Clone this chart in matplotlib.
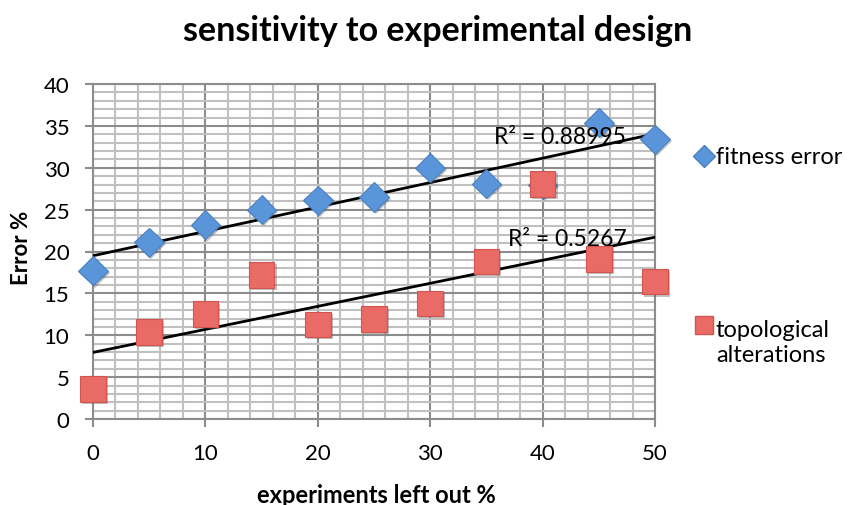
import numpy as np
import matplotlib
matplotlib.use("Agg")
import matplotlib.pyplot as plt
from matplotlib.ticker import MultipleLocator
import matplotlib.patheffects as pe

x_vals = [0, 5, 10, 15, 20, 25, 30, 35, 40, 45, 50]
fitness_error = [17.7, 21.1, 23.2, 25.0, 26.1, 26.5, 30.0, 28.1, 28.0, 35.4, 33.4]
topological = [3.6, 10.4, 12.5, 17.2, 11.3, 11.9, 13.8, 18.8, 28.1, 19.1, 16.4]
series_names = ["fitness error", "topological\nalterations"]
r2_labels = ["R² = 0.88995", "R² = 0.5267"]
title = "sensitivity to experimental design"
xlabel = "experiments left out %"
ylabel = "Error %"

plt.rcParams['font.family'] = ['Lato', 'DejaVu Sans']

fig = plt.figure(figsize=(8.49, 5.06), dpi=100)
W, H = 849, 506
ax = fig.add_axes([93 / W, 1 - 420 / H, (655 - 93) / W, (420 - 85) / H])

ax.set_xlim(0, 50)
ax.set_ylim(0, 40)
ax.xaxis.set_major_locator(MultipleLocator(10))
ax.xaxis.set_minor_locator(MultipleLocator(2))
ax.yaxis.set_major_locator(MultipleLocator(5))
ax.yaxis.set_minor_locator(MultipleLocator(1))
ax.grid(which='minor', color='#c0c0c0', linewidth=1.5)
ax.grid(which='major', color='#8c8c8c', linewidth=1.5)
ax.set_axisbelow(True)
for s in ax.spines.values():
    s.set_color('#8c8c8c')
    s.set_linewidth(1.5)
ax.tick_params(which='minor', length=0)
ax.tick_params(which='major', length=6, color='#8c8c8c', width=1.5,
               labelsize=16)
ax.tick_params(axis='y', pad=11)
ax.tick_params(axis='x', pad=11)

shadow = [pe.SimplePatchShadow(offset=(1.5, -1.5), alpha=0.35, shadow_rgbFace='#555555'), pe.Normal()]

xa = np.array(x_vals, dtype=float)
for yv in (fitness_error, topological):
    k, b = np.polyfit(xa, np.array(yv), 1)
    ax.plot([0, 50], [b, b + 50 * k], color='black', linewidth=2, zorder=3)

ax.plot(x_vals, fitness_error, linestyle='none', marker='D', markersize=15,
        markerfacecolor='#5b95d9', markeredgecolor='#4a7fc0', markeredgewidth=0.8,
        zorder=4, path_effects=shadow, clip_on=False)
ax.plot(x_vals, topological, linestyle='none', marker='s', markersize=18.5,
        markerfacecolor='#ea6b66', markeredgecolor='#d05550', markeredgewidth=0.8,
        zorder=5, path_effects=shadow, clip_on=False)

ax.text(41.5, 33.7, r2_labels[0], fontsize=16.5, ha='center', va='center', zorder=6)
ax.text(42.2, 21.5, r2_labels[1], fontsize=16.5, ha='center', va='center', zorder=6)

fig.text(438 / W, 1 - 31 / H, title, fontsize=24.5, fontweight='bold',
         ha='center', va='center')
fig.text(376 / W, 1 - 496 / H, xlabel, fontsize=17, fontweight='bold',
         ha='center', va='center')
fig.text(22 / W, 1 - 248 / H, ylabel, fontsize=16, fontweight='bold',
         ha='center', va='center', rotation=90)

# legend
fig.lines.append(matplotlib.lines.Line2D([704 / W], [1 - 157 / H], transform=fig.transFigure,
                 marker='D', markersize=11, markerfacecolor='#5b95d9',
                 markeredgecolor='#4a7fc0', linestyle='none'))
fig.text(716 / W, 1 - 158 / H, series_names[0], fontsize=17, ha='left', va='center')
fig.lines.append(matplotlib.lines.Line2D([704 / W], [1 - 326 / H], transform=fig.transFigure,
                 marker='s', markersize=13.5, markerfacecolor='#ea6b66',
                 markeredgecolor='#d05550', linestyle='none'))
fig.text(716 / W, 1 - 343 / H, series_names[1], fontsize=17, ha='left', va='center',
         linespacing=1.2)

fig.savefig('out.png', dpi=100)
